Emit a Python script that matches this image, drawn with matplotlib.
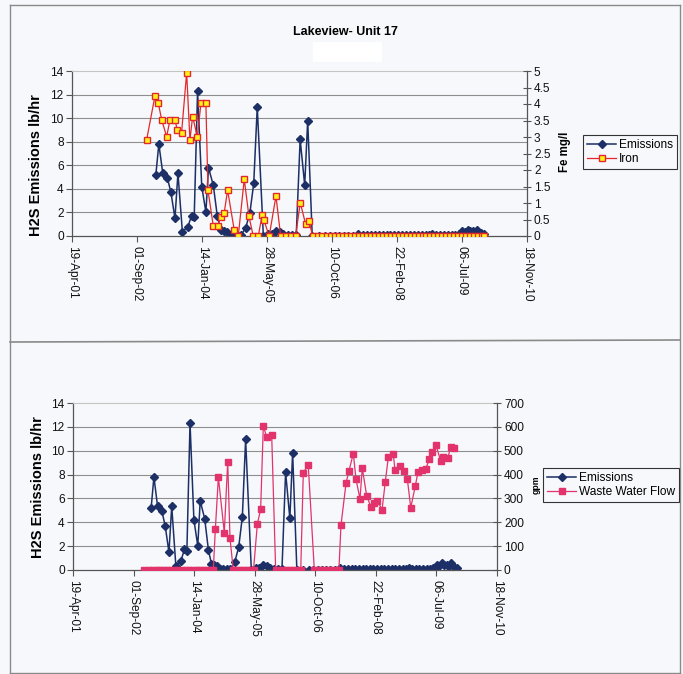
import matplotlib
matplotlib.use("Agg")
import matplotlib.pyplot as plt
from matplotlib.lines import Line2D
from matplotlib.patches import Rectangle
import numpy as np
import pandas as pd

plt.rcParams['font.family'] = ['Liberation Sans', 'DejaVu Sans']

# Sample dates are spreadsheet serial day numbers (origin 1899-12-30)
emis_day = [37645, 37668, 37698, 37733, 37761, 37792, 37815, 37849, 37890, 37920,
            37940, 37966, 37998, 38030, 38050, 38087, 38118, 38143, 38168, 38190,
            38213, 38240, 38268, 38300, 38336, 38368, 38398, 38425, 38472, 38508,
            38538, 38572, 38598, 38625, 38660, 38695, 38725, 38755, 38790, 38813,
            38848, 38900, 38945, 38985, 39020, 39055, 39090, 39125, 39160, 39200,
            39235, 39268, 39300, 39330, 39360, 39390, 39420, 39450, 39480, 39510,
            39540, 39570, 39600, 39630, 39660, 39690, 39720, 39750, 39770, 39800,
            39830, 39860, 39890, 39920, 39950, 39975, 40002, 40022, 40043, 40065,
            40085, 40100, 40118, 40145, 40167]
emis_val = [5.2, 7.8, 5.35, 4.95, 3.7, 1.5, 5.33, 0.36, 0.75, 1.72,
            1.6, 12.3, 4.2, 2.03, 5.8, 4.3, 1.67, 0.52, 0.42, 0.3,
            0.12, 0.05, 0.05, 0.05, 0.7, 1.93, 4.47, 10.95, 0.0, 0.14,
            0.17, 0.45, 0.3, 0.15, 0.05, 0.05, 0.05, 8.2, 4.32, 9.8,
            0.0, 0.0, 0.02, 0.0, 0.0, 0.0, 0.0, 0.0, 0.02, 0.15,
            0.05, 0.05, 0.05, 0.05, 0.05, 0.05, 0.05, 0.05, 0.05, 0.05,
            0.05, 0.05, 0.05, 0.08, 0.05, 0.1, 0.05, 0.12, 0.2, 0.05,
            0.05, 0.05, 0.05, 0.08, 0.1, 0.2, 0.42, 0.35, 0.55, 0.4,
            0.42, 0.3, 0.55, 0.22, 0.14]

iron_day = [37574, 37638, 37664, 37690, 37728, 37754, 37792, 37810, 37843, 37882,
            37907, 37928, 37964, 37992, 38030, 38046, 38087, 38120, 38144, 38171,
            38197, 38248, 38279, 38325, 38361, 38394, 38433, 38463, 38476, 38517,
            38569, 38605, 38643, 38682, 38720, 38756, 38797, 38823, 38851, 38890,
            38925, 38961, 38995, 39026, 39056, 39087, 39117, 39148, 39179, 39209,
            39240, 39270, 39301, 39332, 39360, 39391, 39421, 39452, 39482, 39513,
            39544, 39574, 39605, 39635, 39666, 39697, 39725, 39756, 39786, 39817,
            39847, 39878, 39909, 39939, 39970, 40000, 40031, 40062, 40090, 40121,
            40151, 40168]
iron_val = [2.91, 4.24, 4.02, 3.52, 3.01, 3.52, 3.52, 3.21, 3.13, 4.95,
            2.91, 3.62, 3.01, 4.02, 4.02, 1.39, 0.3, 0.3, 0.58, 0.71,
            1.39, 0.18, 0.0, 1.72, 0.6, 0.0, 0.0, 0.64, 0.48, 0.0,
            1.21, 0.0, 0.0, 0.0, 0.0, 1.01, 0.36, 0.45, 0.0, 0.0,
            0.0, 0.0, 0.0, 0.0, 0.0, 0.0, 0.0, 0.0, 0.0, 0.0,
            0.0, 0.0, 0.0, 0.0, 0.0, 0.0, 0.0, 0.0, 0.0, 0.0,
            0.0, 0.0, 0.0, 0.0, 0.0, 0.0, 0.0, 0.0, 0.0, 0.0,
            0.0, 0.0, 0.0, 0.0, 0.0, 0.0, 0.0, 0.0, 0.0, 0.0,
            0.0, 0.0]

flow_day = [37586, 37630, 37660, 37690, 37720, 37750, 37780, 37810, 37840, 37870,
            37900, 37930, 37960, 37990, 38020, 38050, 38080, 38110, 38140, 38158,
            38175, 38200, 38249, 38277, 38296,
            38323, 38350, 38380, 38410, 38440, 38470, 38490,
            38522, 38549, 38571, 38599, 38640,
            38673, 38700, 38730, 38760, 38790, 38820, 38850, 38880,
            38901, 38942,
            38992, 39020, 39050, 39080, 39110, 39140, 39170, 39195,
            39212, 39254, 39278, 39314, 39336, 39369, 39388, 39424, 39460, 39485,
            39512, 39551, 39578, 39603, 39644, 39658, 39697, 39732, 39760, 39788,
            39826, 39848, 39878, 39911, 39941, 39963, 39996, 40035, 40057, 40093,
            40118, 40148]
flow_val = [0, 0, 0, 0, 0, 0, 0, 0, 0, 0,
            0, 0, 0, 0, 0, 0, 0, 0, 0, 0,
            171, 389, 157, 453, 133,
            0, 0, 0, 0, 0, 0, 0,
            194, 254, 605, 556, 567,
            0, 0, 0, 0, 0, 0, 0, 0,
            408, 440,
            0, 0, 0, 0, 0, 0, 0, 0,
            187, 365, 416, 488, 381, 298, 427, 312, 263, 280,
            291, 252, 370, 474, 485, 419, 437, 413, 381, 261,
            353, 412, 419, 423, 464, 495, 524, 457, 474, 468,
            516, 510]

tick_day = [37000, 37500, 38000, 38500, 39000, 39500, 40000, 40500]
left_ticks = [0, 2, 4, 6, 8, 10, 12, 14]
fe_ticks = [0, 0.5, 1, 1.5, 2, 2.5, 3, 3.5, 4, 4.5, 5]
gpm_ticks = [0, 100, 200, 300, 400, 500, 600, 700]


def to_dates(serials):
    return pd.to_datetime(np.asarray(serials, dtype=float), unit='D', origin='1899-12-30')


PAGE = '#f6f8fb'
NAVY = '#1c2f66'
RED = '#e3282c'
YELLOW = '#fff21a'
PINK = '#e2336c'
GRID = '#8e8e8e'
SPINE = '#555555'
FS = 8.6

W, H = 683, 674
fig = plt.figure(figsize=(W / 100, H / 100), dpi=100, facecolor=PAGE)


def fx(px):
    return px / W


def fy(py):
    return 1 - py / H


def style_axes(ax, ax2, right_ticks, right_fmt):
    tick_dates = to_dates(tick_day)
    ax.set_xlim(tick_dates[0], tick_dates[-1])
    ax.set_xticks(tick_dates)
    ax.set_xticklabels([d.strftime('%d-%b-%y') for d in tick_dates],
                       rotation=270, fontsize=FS)
    ax.set_ylim(0, 14)
    ax.set_yticks(left_ticks)
    ax.set_yticklabels([str(t) for t in left_ticks], fontsize=FS)
    ax.set_facecolor('none')
    ax.grid(axis='y', color=GRID, lw=0.8)
    ax.get_ygridlines()[-1].set_visible(False)
    ax.get_ygridlines()[0].set_visible(False)
    ax.set_axisbelow(True)
    for s in ('left', 'bottom'):
        ax.spines[s].set_color(SPINE)
        ax.spines[s].set_linewidth(0.9)
    ax.spines['top'].set_color('#c4c4c4')
    ax.spines['top'].set_linestyle((0, (1, 1)))
    ax.spines['top'].set_linewidth(0.8)
    ax.spines['right'].set_visible(False)
    ax.tick_params(axis='both', direction='out', length=4, width=0.8,
                   color=SPINE, labelcolor='#111111', pad=2)
    ax.tick_params(axis='x', pad=3)

    ax2.set_ylim(right_ticks[0], right_ticks[-1])
    ax2.set_yticks(right_ticks)
    ax2.set_yticklabels([right_fmt(t) for t in right_ticks], fontsize=FS)
    for s in ('left', 'bottom', 'top'):
        ax2.spines[s].set_visible(False)
    ax2.spines['right'].set_color(SPINE)
    ax2.spines['right'].set_linewidth(0.9)
    ax2.tick_params(axis='y', direction='inout', length=6, width=0.8,
                    color=SPINE, labelcolor='#111111', pad=2)


# ---- upper chart: emissions vs iron ----
ax1 = fig.add_axes([fx(72), fy(236), fx(527) - fx(72), fy(71) - fy(236)])
ax1b = ax1.twinx()
l_em1, = ax1.plot(to_dates(emis_day), emis_val, color=NAVY, lw=1.1,
                  marker='D', ms=4, mfc=NAVY, mec=NAVY, label='Emissions')
l_fe, = ax1b.plot(to_dates(iron_day), iron_val, color=RED, lw=0.9,
                  marker='s', ms=5, mfc=YELLOW, mec=RED, mew=1.0, label='Iron')
style_axes(ax1, ax1b, fe_ticks, lambda t: f'{t:g}')

# ---- lower chart: emissions vs waste water flow ----
ax2 = fig.add_axes([fx(73), fy(570), fx(497) - fx(73), fy(403) - fy(570)])
ax2b = ax2.twinx()
l_em2, = ax2.plot(to_dates(emis_day), emis_val, color=NAVY, lw=1.1,
                  marker='D', ms=4, mfc=NAVY, mec=NAVY, label='Emissions')
l_fl, = ax2b.plot(to_dates(flow_day), flow_val, color=PINK, lw=0.9,
                  marker='s', ms=5, mfc=PINK, mec=PINK, label='Waste Water Flow')
style_axes(ax2, ax2b, gpm_ticks, lambda t: f'{t:g}')

# ---- titles and axis labels ----
fig.text(fx(345), fy(32), 'Lakeview- Unit 17', ha='center', va='center',
         fontsize=9, fontweight='bold')
fig.text(fx(36), fy(165), 'H2S Emissions lb/hr', rotation=90, ha='center',
         va='center', fontsize=10.5, fontweight='bold')
fig.text(fx(38), fy(487), 'H2S Emissions lb/hr', rotation=90, ha='center',
         va='center', fontsize=10.5, fontweight='bold')
fig.text(fx(565), fy(152), 'Fe mg/l', rotation=90, ha='center', va='center',
         fontsize=8.3, fontweight='bold')
fig.text(fx(536), fy(485), 'gpm', rotation=90, ha='center', va='center',
         fontsize=6.3, fontweight='bold')

# ---- legends ----
leg_kw = dict(loc='center left', fontsize=FS, frameon=True, fancybox=False,
              edgecolor='#333333', facecolor=PAGE, framealpha=1,
              borderpad=0.35, handlelength=2.4, handletextpad=0.25,
              labelspacing=0.2, borderaxespad=0)
lg1 = fig.legend([l_em1, l_fe], ['Emissions', 'Iron'],
                 bbox_to_anchor=(fx(583), fy(152)), **leg_kw)
lg1.get_frame().set_linewidth(0.8)
lg2 = fig.legend([l_em2, l_fl], ['Emissions', 'Waste Water Flow'],
                 bbox_to_anchor=(fx(543), fy(485)), **leg_kw)
lg2.get_frame().set_linewidth(0.8)

# ---- page frame ----
frame_c = '#8a8a8a'
fig.add_artist(Line2D([fx(10), fx(680)], [fy(5), fy(5)], color=frame_c, lw=1.0))
fig.add_artist(Line2D([fx(10), fx(10)], [fy(5), fy(673)], color=frame_c, lw=1.0))
fig.add_artist(Line2D([fx(680), fx(680)], [fy(5), fy(673)], color=frame_c, lw=1.0))
fig.add_artist(Line2D([fx(10), fx(680)], [fy(342), fy(340)], color=frame_c, lw=1.2))
fig.add_artist(Line2D([fx(10), fx(680)], [fy(673), fy(673)], color=frame_c, lw=1.0))
fig.add_artist(Rectangle((fx(313), fy(62)), fx(382) - fx(313), fy(42) - fy(62),
                         transform=fig.transFigure, facecolor='white',
                         edgecolor='none'))

fig.savefig('out.png', dpi=100, facecolor=PAGE)
